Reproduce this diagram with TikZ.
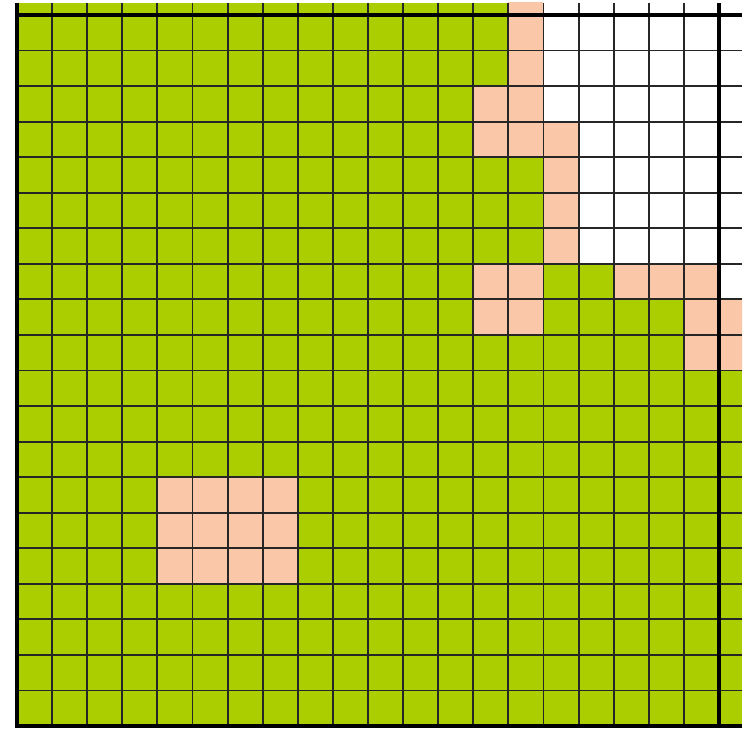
\documentclass[tikz,border=0pt]{standalone}
\usepackage{xcolor}
\usepackage{tikz}

\definecolor{grass}{RGB}{170,206,0}
\definecolor{peach}{RGB}{250,200,168}

\begin{document}
\begin{tikzpicture}[x=1.053cm, y=-1.0665cm,
  cP/.style={fill=peach},
  cW/.style={fill=white},
  gline/.style={black!85, line width=1.6pt},
  frame/.style={black, line width=3pt}]
  \useasboundingbox (-0.4843,-0.4219) rectangle (20.855,20.141);

  \begin{scope}
    \clip (0,-0.34) rectangle (20.66,20);
    \fill[grass] (0,-0.34) rectangle (20.66,20);

    % white corner, top right
    \foreach \c/\r in {15/-1,16/-1,17/-1,18/-1,19/-1,20/-1,
                       15/0,16/0,17/0,18/0,19/0,20/0,
                       15/1,16/1,17/1,18/1,19/1,20/1,
                       15/2,16/2,17/2,18/2,19/2,20/2,
                       16/3,17/3,18/3,19/3,20/3,
                       16/4,17/4,18/4,19/4,20/4,
                       16/5,17/5,18/5,19/5,20/5,
                       16/6,17/6,18/6,19/6,20/6,20/7}
      \fill[cW] (\c,\r) rectangle ++(1,1);

    % peach cells
    \foreach \c/\r in {14/-1,14/0,14/1,13/2,14/2,13/3,14/3,15/3,
                       15/4,15/5,15/6,13/7,14/7,17/7,18/7,19/7,
                       13/8,14/8,19/8,20/8,19/9,20/9,
                       4/13,5/13,6/13,7/13,4/14,5/14,6/14,7/14,
                       4/15,5/15,6/15,7/15}
      \fill[cP] (\c,\r) rectangle ++(1,1);

    \foreach \x in {1,...,19}
      \draw[gline] (\x,-0.34) -- (\x,20);
    \foreach \y in {1,...,19}
      \draw[gline] (0,\y) -- (20.66,\y);
  \end{scope}

  % heavy border lines
  \draw[frame] (0,-0.34) -- (0,20) -- (20.66,20);
  \draw[frame] (0,0) -- (20.66,0);
  \draw[frame] (20,-0.34) -- (20,20);
\end{tikzpicture}
\end{document}
